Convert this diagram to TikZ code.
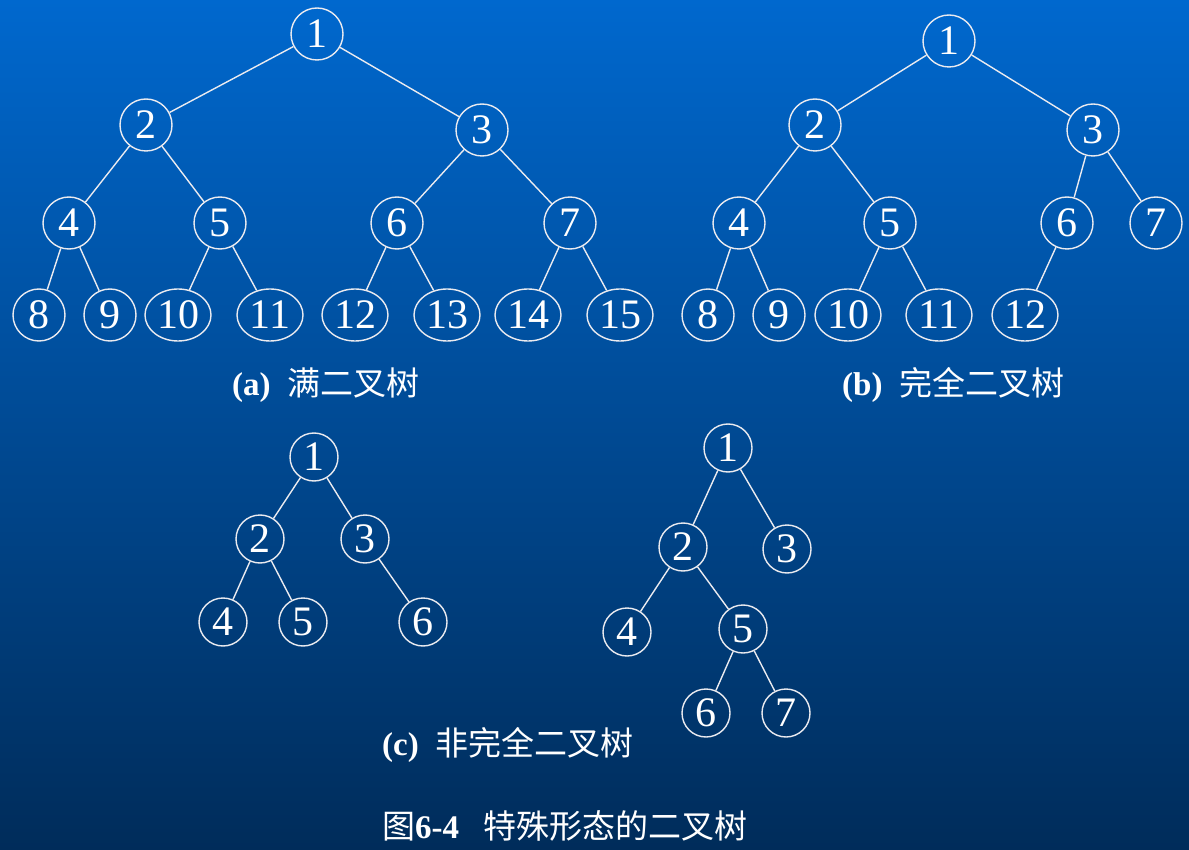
\documentclass[tikz,border=0pt]{standalone}
\usepackage{fontspec}
\setmainfont{Liberation Serif}
\newfontfamily\cjk{Noto Sans CJK SC}
\usetikzlibrary{shapes.geometric}
\definecolor{bgtop}{RGB}{0,104,206}
\definecolor{bgbot}{RGB}{0,44,90}
\definecolor{ln}{RGB}{235,235,240}
\newcommand{\zh}[1]{{\cjk\mdseries #1}}
\begin{document}
\begin{tikzpicture}[x=1pt,y=-1pt,
  nd/.style={circle, draw=ln, line width=1.4pt, minimum size=52pt, inner sep=0pt, text=white, font=\fontsize{42}{42}\selectfont},
  lf/.style={ellipse, draw=ln, line width=1.4pt, minimum width=66pt, minimum height=52pt, inner sep=0pt, text=white, font=\fontsize{42}{42}\selectfont},
  sm/.style={nd, minimum size=48pt},
  ed/.style={draw=ln, line width=1.4pt},
  captext/.style={anchor=west, text=white, inner sep=0pt, font=\fontsize{33}{33}\selectfont\bfseries}]
\fill[top color=bgtop, bottom color=bgbot] (0,0) rectangle (1189,850);
\useasboundingbox (0,0) rectangle (1189,850);
% (a) full binary tree
\node[nd] (a1) at (317,34) {1};
\node[nd] (a2) at (146,125) {2};
\node[nd] (a3) at (482,130) {3};
\node[nd] (a4) at (69,223) {4};
\node[nd] (a5) at (220,223) {5};
\node[nd] (a6) at (397,223) {6};
\node[nd] (a7) at (570,223) {7};
\node[nd] (a8) at (39,315) {8};
\node[nd] (a9) at (110,315) {9};
\node[lf] (a10) at (178,315) {10};
\node[lf] (a11) at (270,315) {11};
\node[lf] (a12) at (355,315) {12};
\node[lf] (a13) at (447,315) {13};
\node[lf] (a14) at (528,315) {14};
\node[lf] (a15) at (620,315) {15};
\draw[ed] (a1)--(a2) (a1)--(a3) (a2)--(a4) (a2)--(a5) (a3)--(a6) (a3)--(a7)
  (a4)--(a8) (a4)--(a9) (a5)--(a10) (a5)--(a11) (a6)--(a12) (a6)--(a13) (a7)--(a14) (a7)--(a15);
\node[captext] (capa) at (232,385) {(a)\hspace{0.5em}\zh{满二叉树}};
% (b) complete binary tree
\node[nd] (b1) at (949,41) {1};
\node[nd] (b2) at (815,125) {2};
\node[nd] (b3) at (1093,130) {3};
\node[nd] (b4) at (739,223) {4};
\node[nd] (b5) at (890,223) {5};
\node[nd] (b6) at (1067,223) {6};
\node[nd] (b7) at (1156,223) {7};
\node[nd] (b8) at (708,315) {8};
\node[nd] (b9) at (779,315) {9};
\node[lf] (b10) at (848,315) {10};
\node[lf] (b11) at (939,315) {11};
\node[lf] (b12) at (1025,315) {12};
\draw[ed] (b1)--(b2) (b1)--(b3) (b2)--(b4) (b2)--(b5) (b3)--(b6) (b3)--(b7)
  (b4)--(b8) (b4)--(b9) (b5)--(b10) (b5)--(b11) (b6)--(b12);
\node[captext] (capb) at (842,385) {(b)\hspace{0.5em}\zh{完全二叉树}};
% (c) non-complete binary trees
\node[sm] (c1) at (314,457) {1};
\node[sm] (c2) at (260,539) {2};
\node[sm] (c3) at (365,539) {3};
\node[sm] (c4) at (223,622) {4};
\node[sm] (c5) at (303,622) {5};
\node[sm] (c6) at (423,622) {6};
\draw[ed] (c1)--(c2) (c1)--(c3) (c2)--(c4) (c2)--(c5) (c3)--(c6);
\node[sm] (d1) at (728,448) {1};
\node[sm] (d2) at (683,547) {2};
\node[sm] (d3) at (787,549) {3};
\node[sm] (d4) at (627,632) {4};
\node[sm] (d5) at (743,629) {5};
\node[sm] (d6) at (706,713) {6};
\node[sm] (d7) at (786,713) {7};
\draw[ed] (d1)--(d2) (d1)--(d3) (d2)--(d4) (d2)--(d5) (d5)--(d6) (d5)--(d7);
\node[captext] (capc) at (382,745) {(c)\hspace{0.5em}\zh{非完全二叉树}};
\node[captext] (title) at (382,826) {\zh{图}6-4\hspace{0.75em}\zh{特殊形态的二叉树}};
\end{tikzpicture}
\end{document}
